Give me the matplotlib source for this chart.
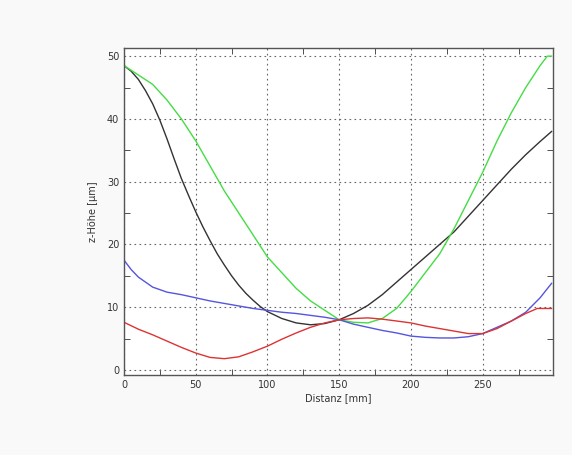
import matplotlib
matplotlib.use("Agg")
import matplotlib.pyplot as plt
from matplotlib.ticker import MultipleLocator

# Data
x_black = [0, 5, 10, 15, 20, 25, 30, 35, 40, 45, 50, 55, 60, 65, 70, 75, 80, 85, 90, 95, 100, 110, 120, 130, 140, 150, 160, 170, 180, 190, 200, 210, 220, 230, 240, 250, 260, 270, 280, 290, 298]
y_black = [48.5, 47.6, 46.3, 44.5, 42.4, 39.8, 36.8, 33.6, 30.5, 27.8, 25.2, 22.8, 20.6, 18.5, 16.7, 15.0, 13.5, 12.2, 11.1, 10.1, 9.3, 8.2, 7.5, 7.2, 7.4, 8, 9, 10.3, 12, 14, 16, 18, 20, 22, 24.5, 27, 29.5, 32, 34.3, 36.4, 38]

x_green = [0, 10, 20, 30, 40, 50, 60, 70, 80, 90, 100, 110, 120, 130, 140, 150, 160, 170, 180, 190, 200, 210, 220, 230, 240, 250, 260, 270, 280, 290, 295, 298]
y_green = [48.5, 47, 45.5, 43, 40, 36.5, 32.5, 28.5, 25, 21.5, 18, 15.5, 13, 11, 9.5, 8, 7.6, 7.5, 8.2, 9.8, 12.5, 15.5, 18.5, 22.5, 27, 31.5, 36.5, 41, 45, 48.5, 50, 50]

x_blue = [0, 5, 10, 20, 30, 40, 50, 60, 70, 80, 90, 100, 110, 120, 130, 140, 150, 160, 170, 180, 190, 200, 210, 220, 230, 240, 250, 260, 270, 280, 290, 298]
y_blue = [17.5, 16, 14.8, 13.2, 12.4, 12, 11.5, 11, 10.6, 10.2, 9.8, 9.5, 9.2, 9, 8.7, 8.4, 8, 7.3, 6.8, 6.3, 5.9, 5.4, 5.2, 5.1, 5.1, 5.3, 5.8, 6.8, 7.8, 9.2, 11.5, 13.8]

x_red = [0, 10, 20, 30, 40, 50, 60, 70, 80, 90, 100, 110, 120, 130, 140, 150, 160, 170, 180, 190, 200, 210, 220, 230, 240, 250, 260, 270, 280, 288, 298]
y_red = [7.6, 6.5, 5.6, 4.6, 3.6, 2.7, 2.0, 1.8, 2.1, 2.9, 3.8, 4.9, 5.9, 6.8, 7.5, 8.0, 8.2, 8.3, 8.1, 7.8, 7.5, 7.0, 6.6, 6.2, 5.8, 5.8, 6.6, 7.8, 9.0, 9.8, 9.8]

x_ticks = [0, 50, 100, 150, 200, 250]
y_ticks = [0, 10, 20, 30, 40, 50]

fig = plt.figure(figsize=(5.72, 4.55), dpi=100, facecolor='#f8f9f8')
ax = fig.add_axes([124/572, 80/455, (553-124)/572, (375-48)/455])
ax.set_facecolor('white')

ax.plot(x_black, y_black, color='#333333', lw=1.0)
ax.plot(x_green, y_green, color='#44dd44', lw=1.0)
ax.plot(x_blue, y_blue, color='#5555dd', lw=1.0)
ax.plot(x_red, y_red, color='#dd3333', lw=1.0)

ax.set_xlim(0, 299)
ax.set_ylim(-0.8, 51.3)
ax.set_xticks(x_ticks)
ax.set_yticks(y_ticks)
ax.xaxis.set_minor_locator(MultipleLocator(25))
ax.yaxis.set_minor_locator(MultipleLocator(5))
ax.tick_params(which='both', direction='in', top=True, right=True, labelsize=7, colors='#333333')
ax.tick_params(which='major', length=0)
ax.tick_params(which='minor', length=4)
ax.grid(True, which='major', linestyle=(0, (1.5, 3)), color='#666666', lw=0.8)
for s in ax.spines.values():
    s.set_color('#555555')
    s.set_linewidth(1.0)

ax.set_xlabel('Distanz [mm]', fontsize=7, labelpad=2, color='#333333')
ax.set_ylabel('z-Höhe [µm]', fontsize=7, labelpad=6, color='#333333')

fig.savefig('out.png', dpi=100, facecolor=fig.get_facecolor())
